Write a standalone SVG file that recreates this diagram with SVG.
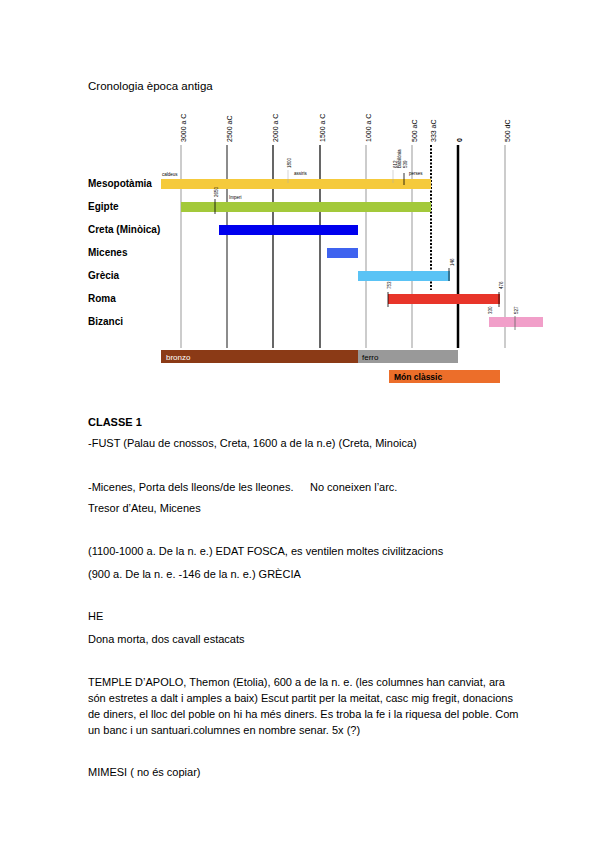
<svg xmlns="http://www.w3.org/2000/svg" width="599" height="848" viewBox="0 0 599 848">
<style>
text{font-family:"Liberation Sans",Arial,sans-serif;fill:#000}
.t{font-size:11px}
.lab{font-size:10px;font-weight:bold}
.yr{font-size:7px}
.tiny{font-size:4.5px}
.g{stroke:#aaa;stroke-width:1.2}
.d{stroke:#666;stroke-width:1.5}
.k{stroke:#000;stroke-width:1.2}
</style>
<rect width="599" height="848" fill="#fff"/>
<text x="88" y="90" style="font-size:11.5px">Cronologia època antiga</text>
<g id="grid">
<line class="g" x1="181" y1="145" x2="181" y2="348"/>
<line class="d" x1="227" y1="145" x2="227" y2="348"/>
<line class="k" x1="273" y1="145" x2="273" y2="348"/>
<line class="k" x1="320" y1="145" x2="320" y2="348"/>
<line class="g" x1="366" y1="145" x2="366" y2="348" stroke="#ccc"/>
<line class="g" x1="412" y1="145" x2="412" y2="348"/>
<line x1="431" y1="145" x2="431" y2="290" stroke="#000" stroke-width="2" stroke-dasharray="2,1.5"/>
<line x1="458" y1="145" x2="458" y2="348" stroke="#000" stroke-width="2.5"/>
<line class="g" x1="505" y1="145" x2="505" y2="348"/>
<g class="yr">
<text transform="translate(186,142) rotate(-90)">3000 a C</text>
<text transform="translate(232,142) rotate(-90)">2500 aC</text>
<text transform="translate(278,142) rotate(-90)">2000 a C</text>
<text transform="translate(325,142) rotate(-90)">1500 a C</text>
<text transform="translate(371,142) rotate(-90)">1000 a C</text>
<text transform="translate(417,142) rotate(-90)">500 aC</text>
<text transform="translate(436,142) rotate(-90)">333 aC</text>
<text transform="translate(462,142) rotate(-90)" font-weight="bold">0</text>
<text transform="translate(510,142) rotate(-90)">500 dC</text>
</g>
</g>
<g id="mesopotamia">
<text class="lab" x="88" y="187">Mesopotàmia</text>
<rect x="161" y="179" width="270" height="10" fill="#f5ca3c"/>
<text class="tiny" x="162" y="176">caldeus</text>
<text class="tiny" x="294" y="175">assiris</text>
<text class="tiny" x="409" y="175">perses</text>
<line x1="288" y1="170" x2="288" y2="183" stroke="#aaa" stroke-width="0.5"/>
<text class="tiny" transform="translate(291,168) rotate(-90)">1800</text>
<line x1="393" y1="170" x2="393" y2="183" stroke="#aaa" stroke-width="0.5"/>
<text class="tiny" transform="translate(397,168) rotate(-90)">612</text>
<text class="tiny" transform="translate(401,168) rotate(-90)">Babilònia</text>
<line x1="404" y1="173" x2="404" y2="185" stroke="#000" stroke-width="0.8"/>
<text class="tiny" transform="translate(407,168) rotate(-90)">539</text>
</g>
<g id="egipte">
<text class="lab" x="88" y="210">Egipte</text>
<rect x="181" y="202" width="250" height="10" fill="#a3c93a"/>
<line x1="215" y1="199" x2="215" y2="214" stroke="#000" stroke-width="0.8"/>
<text class="tiny" transform="translate(218,197) rotate(-90)">2650</text>
<text class="tiny" x="229" y="199">Imperi</text>
</g>
<g id="creta">
<text class="lab" x="88" y="233">Creta (Minòica)</text>
<rect x="219" y="225" width="139" height="10" fill="#0000ee"/>
</g>
<g id="micenes">
<text class="lab" x="88" y="256">Micenes</text>
<rect x="327" y="248" width="31" height="10" fill="#3f63ef"/>
</g>
<g id="grecia">
<text class="lab" x="88" y="279">Grècia</text>
<rect x="358" y="271" width="92" height="10" fill="#5ac3f5"/>
<line x1="449" y1="268" x2="449" y2="281" stroke="#000" stroke-width="0.8"/>
<text class="tiny" transform="translate(454,266) rotate(-90)">146</text>
</g>
<g id="roma">
<text class="lab" x="88" y="302">Roma</text>
<rect x="388" y="294" width="112" height="10" fill="#e8352a"/>
<line x1="388" y1="292" x2="388" y2="307" stroke="#000" stroke-width="0.8"/>
<line x1="499" y1="292" x2="499" y2="307" stroke="#000" stroke-width="0.8"/>
<text class="tiny" transform="translate(391,289) rotate(-90)">753</text>
<text class="tiny" transform="translate(503,289) rotate(-90)">476</text>
</g>
<g id="bizanci">
<text class="lab" x="88" y="325">Bizanci</text>
<rect x="489" y="317" width="54" height="10" fill="#f19fc9"/>
<line x1="515" y1="316" x2="515" y2="330" stroke="#666" stroke-width="0.8"/>
<text class="tiny" transform="translate(492,314) rotate(-90)">330</text>
<text class="tiny" transform="translate(518,314) rotate(-90)">527</text>
</g>
<g id="periodes">
<rect x="161" y="350" width="197" height="13" fill="#8b3a16"/>
<text x="166" y="360" style="font-size:8px;fill:#fff">bronzo</text>
<rect x="358" y="350" width="100" height="13" fill="#999"/>
<text x="362" y="360" style="font-size:8px">ferro</text>
<rect x="389" y="370" width="111" height="13" fill="#ec6e2a"/>
<text x="394" y="380" style="font-size:8.5px;font-weight:bold">Món clàssic</text>
</g>
<g id="text" class="t">
<text x="88" y="426" font-weight="bold">CLASSE 1</text>
<text x="88" y="447">-FUST (Palau de cnossos, Creta, 1600 a de la n.e) (Creta, Minoica)</text>
<text x="88" y="491">-Micenes, Porta dels lleons/de les lleones.</text>
<text x="310" y="491">No coneixen l’arc.</text>
<text x="88" y="512">Tresor d’Ateu, Micenes</text>
<text x="88" y="555">(1100-1000 a. De la n. e.) EDAT FOSCA, es ventilen moltes civilitzacions</text>
<text x="88" y="578">(900 a. De la n. e. -146 de la n. e.) GRÈCIA</text>
<text x="88" y="620">HE</text>
<text x="88" y="643">Dona morta, dos cavall estacats</text>
<text x="88" y="686">TEMPLE D’APOLO, Themon (Etolia), 600 a de la n. e. (les columnes han canviat, ara</text>
<text x="88" y="702">són estretes a dalt i amples a baix) Escut partit per la meitat, casc mig fregit, donacions</text>
<text x="88" y="718">de diners, el lloc del poble on hi ha més diners. Es troba la fe i la riquesa del poble. Com</text>
<text x="88" y="734">un banc i un santuari.columnes en nombre senar. 5x (?)</text>
<text x="88" y="776">MIMESI ( no és copiar)</text>
</g>
</svg>
